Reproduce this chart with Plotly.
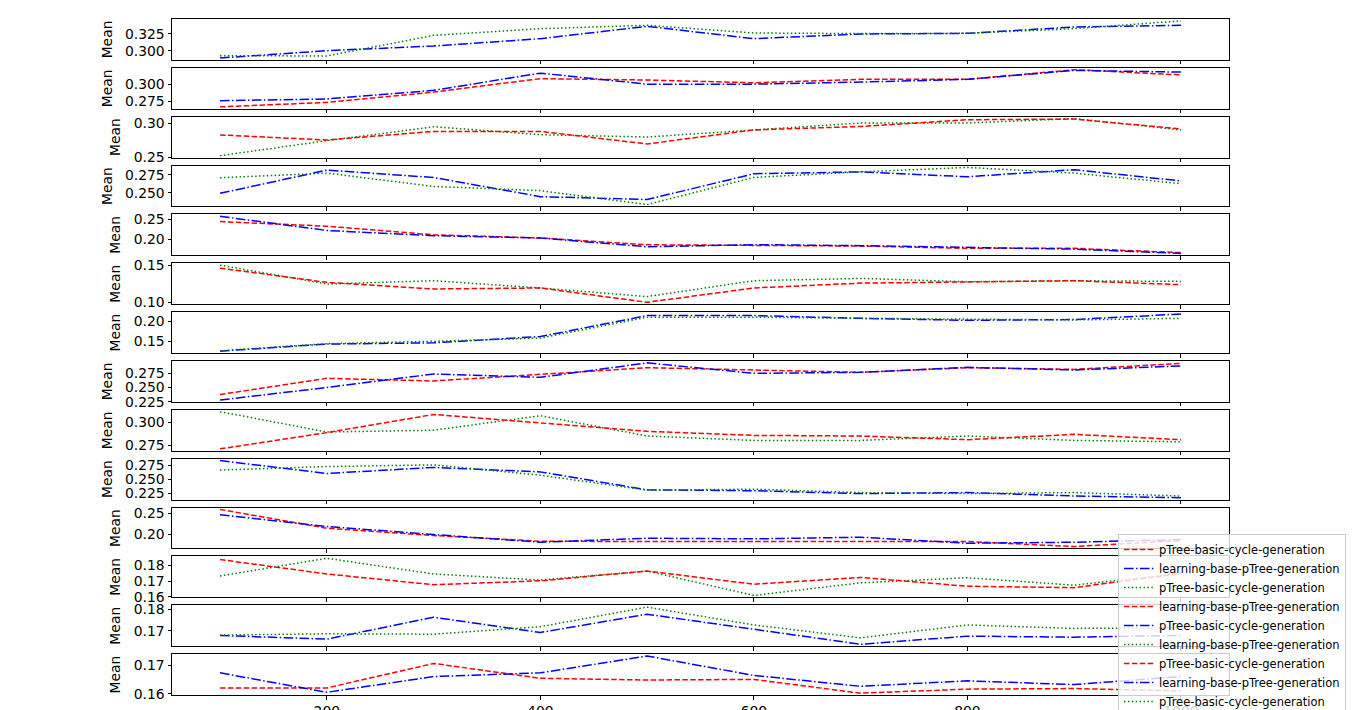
import plotly.graph_objects as go
from plotly.subplots import make_subplots

x_values = [100, 200, 300, 400, 500, 600, 700, 800, 900, 1000]
x_tick_values = [200, 400, 600, 800, 1000]
x_tick_labels = ["200", "400", "600", "800", "1000"]

label_ptree = "pTree-basic-cycle-generation"
label_learning = "learning-base-pTree-generation"

# each panel: first line ("learning" legend slot), second line ("pTree" legend slot)
mean_01_first = [0.289, 0.300, 0.307, 0.318, 0.3365, 0.318, 0.325, 0.326, 0.3355, 0.338]
mean_01_second = [0.2925, 0.292, 0.323, 0.333, 0.338, 0.3265, 0.3256, 0.326, 0.333, 0.3447]
mean_02_first = [0.267, 0.2735, 0.2885, 0.308, 0.306, 0.302, 0.307, 0.307, 0.321, 0.3135]
mean_02_second = [0.276, 0.2785, 0.291, 0.316, 0.300, 0.300, 0.303, 0.307, 0.320, 0.3175]
mean_03_first = [0.2524, 0.2743, 0.2946, 0.283, 0.2797, 0.2895, 0.300, 0.300, 0.3065, 0.290]
mean_03_second = [0.2826, 0.2753, 0.2878, 0.2878, 0.2695, 0.290, 0.295, 0.3048, 0.3058, 0.2913]
mean_04_first = [0.2495, 0.2814, 0.2713, 0.245, 0.241, 0.2764, 0.279, 0.2723, 0.282, 0.2665]
mean_04_second = [0.2709, 0.2773, 0.259, 0.2532, 0.2341, 0.2714, 0.279, 0.2851, 0.2773, 0.2628]
mean_05_first = [0.2448, 0.233, 0.211, 0.2026, 0.1853, 0.1845, 0.182, 0.176, 0.176, 0.1651]
mean_05_second = [0.2585, 0.222, 0.2087, 0.2026, 0.180, 0.1855, 0.183, 0.179, 0.174, 0.163]
mean_06_first = [0.150, 0.1248, 0.1292, 0.1195, 0.108, 0.1292, 0.1323, 0.1278, 0.1292, 0.1283]
mean_06_second = [0.146, 0.127, 0.1182, 0.1195, 0.1004, 0.1195, 0.126, 0.1278, 0.1292, 0.1239]
mean_07_first = [0.125, 0.143, 0.146, 0.162, 0.215, 0.215, 0.208, 0.203, 0.205, 0.219]
mean_07_second = [0.126, 0.144, 0.150, 0.158, 0.211, 0.211, 0.208, 0.206, 0.204, 0.208]
mean_08_first = [0.2377, 0.2662, 0.2615, 0.2738, 0.285, 0.2809, 0.2768, 0.285, 0.282, 0.2925]
mean_08_second = [0.2280, 0.250, 0.2738, 0.268, 0.2935, 0.275, 0.2768, 0.2856, 0.2809, 0.288]
mean_09_first = [0.3118, 0.2897, 0.2916, 0.3074, 0.2853, 0.2805, 0.2805, 0.2853, 0.2805, 0.279]
mean_09_second = [0.2713, 0.289, 0.3088, 0.300, 0.2904, 0.286, 0.2853, 0.2813, 0.2871, 0.2813]
mean_10_first = [0.2828, 0.2602, 0.2708, 0.263, 0.2316, 0.230, 0.225, 0.2268, 0.2208, 0.2178]
mean_10_second = [0.2663, 0.2723, 0.2753, 0.2572, 0.231, 0.2328, 0.2268, 0.225, 0.2268, 0.2208]
mean_11_first = [0.2586, 0.2148, 0.1977, 0.1844, 0.1836, 0.1836, 0.1844, 0.1836, 0.1719, 0.186]
mean_11_second = [0.2461, 0.2188, 0.200, 0.182, 0.1914, 0.1899, 0.1938, 0.1797, 0.182, 0.1883]
mean_12_first = [0.1733, 0.1847, 0.1746, 0.1707, 0.1765, 0.1608, 0.1689, 0.1722, 0.1674, 0.175]
mean_12_second = [0.1839, 0.1746, 0.1677, 0.1702, 0.1765, 0.168, 0.1724, 0.1667, 0.1658, 0.175]
mean_13_first = [0.1678, 0.1661, 0.1763, 0.1692, 0.1777, 0.1708, 0.1637, 0.1675, 0.167, 0.1678]
mean_13_second = [0.168, 0.1686, 0.1684, 0.1719, 0.181, 0.1727, 0.1667, 0.1727, 0.1711, 0.1714]
mean_14_first = [0.162, 0.162, 0.1706, 0.1654, 0.1648, 0.165, 0.1602, 0.1616, 0.1618, 0.161]
mean_14_second = [0.1673, 0.1605, 0.166, 0.1673, 0.1732, 0.1664, 0.1626, 0.1645, 0.1632, 0.166]

y_ticks_01 = ["0.300", "0.325"]
y_ticks_02 = ["0.275", "0.300"]
y_ticks_03 = ["0.25", "0.30"]
y_ticks_04 = ["0.250", "0.275"]
y_ticks_05 = ["0.20", "0.25"]
y_ticks_06 = ["0.10", "0.15"]
y_ticks_07 = ["0.15", "0.20"]
y_ticks_08 = ["0.225", "0.250", "0.275"]
y_ticks_09 = ["0.275", "0.300"]
y_ticks_10 = ["0.225", "0.250", "0.275"]
y_ticks_11 = ["0.20", "0.25"]
y_ticks_12 = ["0.16", "0.17", "0.18"]
y_ticks_13 = ["0.17", "0.18"]
y_ticks_14 = ["0.16", "0.17"]

panels = [
    (mean_01_first, mean_01_second, y_ticks_01),
    (mean_02_first, mean_02_second, y_ticks_02),
    (mean_03_first, mean_03_second, y_ticks_03),
    (mean_04_first, mean_04_second, y_ticks_04),
    (mean_05_first, mean_05_second, y_ticks_05),
    (mean_06_first, mean_06_second, y_ticks_06),
    (mean_07_first, mean_07_second, y_ticks_07),
    (mean_08_first, mean_08_second, y_ticks_08),
    (mean_09_first, mean_09_second, y_ticks_09),
    (mean_10_first, mean_10_second, y_ticks_10),
    (mean_11_first, mean_11_second, y_ticks_11),
    (mean_12_first, mean_12_second, y_ticks_12),
    (mean_13_first, mean_13_second, y_ticks_13),
    (mean_14_first, mean_14_second, y_ticks_14),
]

STYLES = [
    dict(color="#ff0000", dash="5.5px,2.4px"),                 # red dashed
    dict(color="#0000ff", dash="9.6px,2.4px,1.5px,2.4px"),     # blue dash-dot
    dict(color="#008000", dash="1.5px,2.4px"),                 # green dotted
]

# the page body adds an 8px offset on the top and left
OFF = 8
W, H = 1366, 710
ML, MR, MT, MB = 172 - OFF, 137 + OFF, 19 - OFF, 15 + OFF
n = len(panels)
gap_px = 8
plot_h = H - MT - MB

fig = make_subplots(rows=n, cols=1, vertical_spacing=gap_px / plot_h)

FONT = "DejaVu Sans"

# first legend slot (no visible line)
fig.add_trace(go.Scatter(x=[None], y=[None], mode="lines", name=label_ptree,
                         line=dict(width=1.5, **STYLES[0]), showlegend=True,
                         hoverinfo="skip"), row=1, col=1)

line_index = 1
for k, (first, second, yt) in enumerate(panels):
    r = k + 1
    for series, name in ((first, label_learning), (second, label_ptree)):
        st = STYLES[line_index % 3]
        fig.add_trace(go.Scatter(x=x_values, y=series, mode="lines", name=name,
                                 line=dict(width=1.5, **st), showlegend=True),
                      row=r, col=1)
        line_index += 1
    lo = min(min(first), min(second))
    hi = max(max(first), max(second))
    pad = 0.05 * (hi - lo)
    fig.update_yaxes(row=r, col=1, range=[lo - pad, hi + pad],
                     tickvals=[float(t) for t in yt], ticktext=yt,
                     title=dict(text="Mean", font=dict(family=FONT, size=13.9, color="black"), standoff=9),
                     showline=True, linecolor="black", linewidth=1, mirror=True,
                     ticks="outside", ticklen=3.5, tickwidth=1, tickcolor="black",
                     showgrid=False, zeroline=False,
                     tickfont=dict(family=FONT, size=13.9, color="black"))
    fig.update_xaxes(row=r, col=1, range=[55, 1045],
                     tickvals=x_tick_values, ticktext=x_tick_labels,
                     showticklabels=(r == n),
                     showline=True, linecolor="black", linewidth=1, mirror=True,
                     ticks="outside", ticklen=3.5, tickwidth=1, tickcolor="black",
                     showgrid=False, zeroline=False,
                     tickfont=dict(family=FONT, size=13.9, color="black"))

legend_top_px = 534 - OFF
legend_left_px = 1118 - OFF
fig.update_layout(
    width=W, height=H,
    margin=dict(l=ML, r=MR, t=MT, b=MB, autoexpand=False),
    paper_bgcolor="white", plot_bgcolor="white",
    font=dict(family=FONT, color="black"),
    legend=dict(
        x=(legend_left_px - ML) / (W - ML - MR), xanchor="left",
        y=(H - MB - legend_top_px) / plot_h, yanchor="top",
        bgcolor="rgba(255,255,255,0.8)", bordercolor="#cccccc", borderwidth=1,
        font=dict(family=FONT, size=11.5, color="black"),
        tracegroupgap=0, itemwidth=30,
    ),
    showlegend=True,
)

fig.write_html("out.html")
